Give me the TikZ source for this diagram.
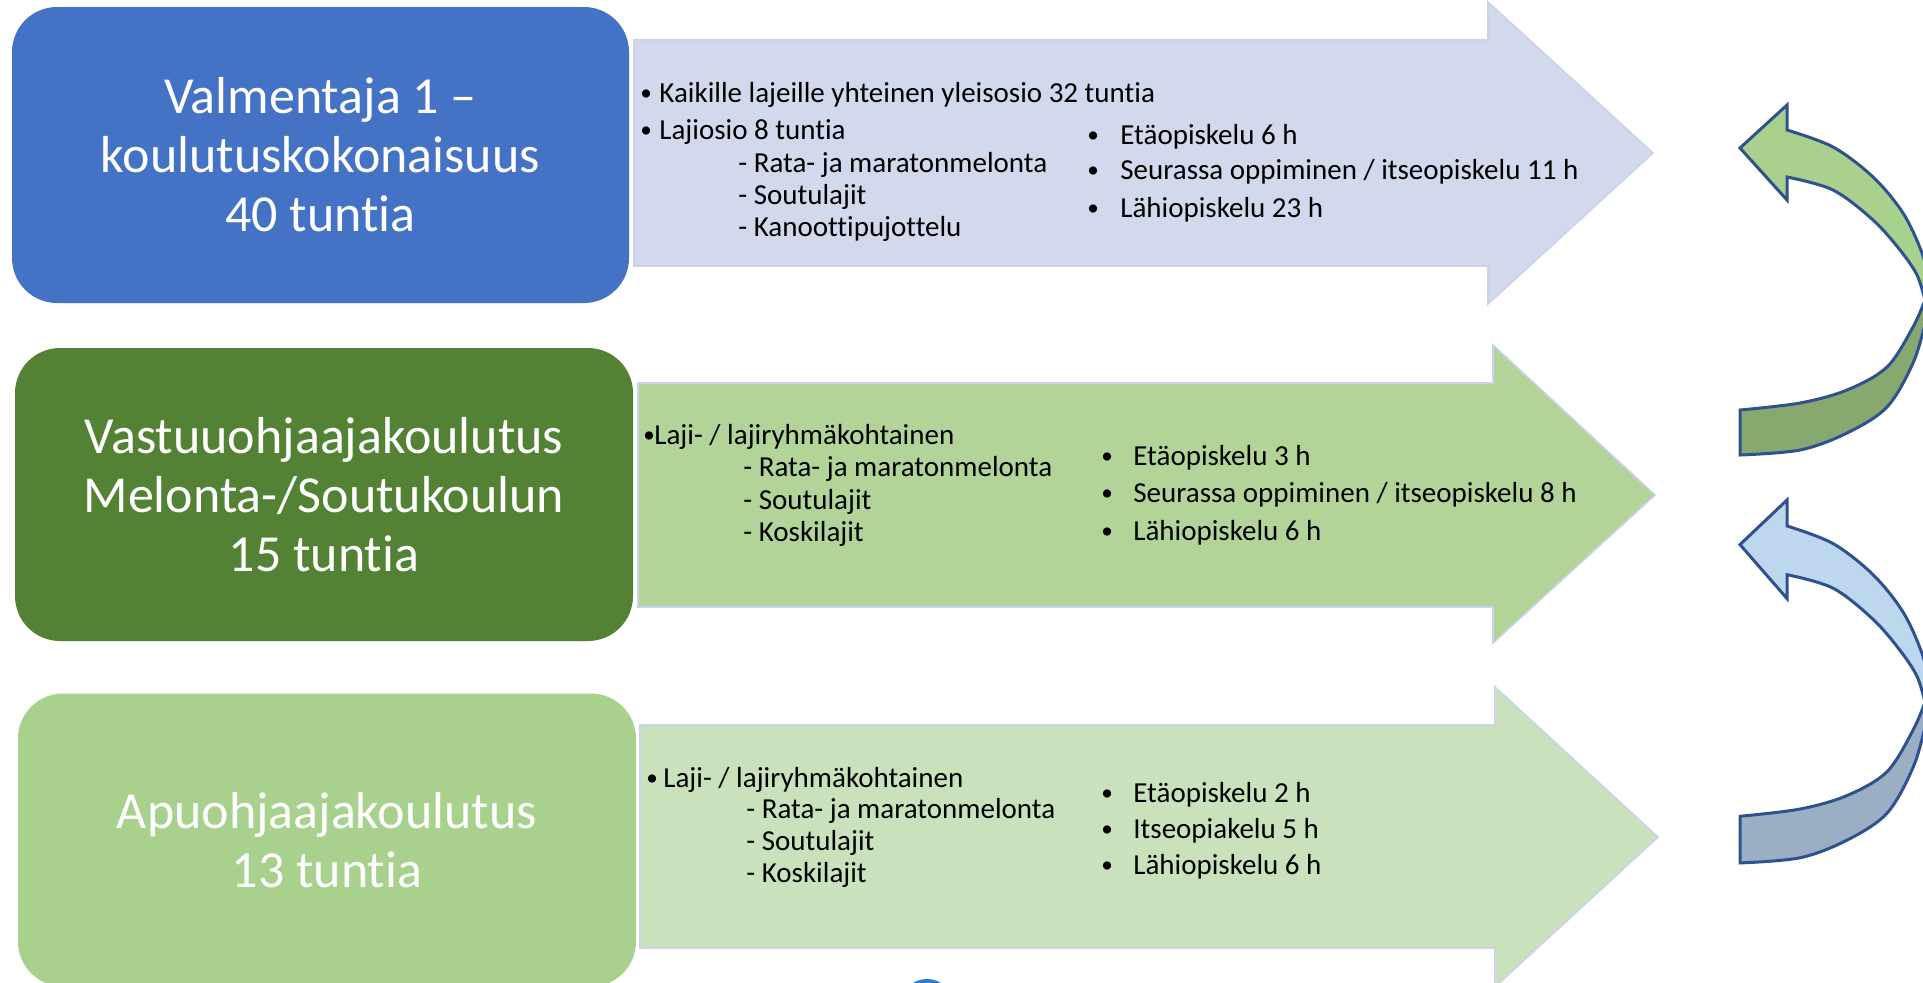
\documentclass[tikz,border=0pt]{standalone}
\usepackage{fontspec}
\setmainfont{Carlito}[RawFeature={-liga;-clig}]
\definecolor{boxA}{HTML}{4472C4}
\definecolor{boxB}{HTML}{548235}
\definecolor{boxC}{HTML}{A9D18E}
\definecolor{arrA}{HTML}{D3D9EC}
\definecolor{arrB}{HTML}{B2D499}
\definecolor{arrC}{HTML}{C9E2BB}
\definecolor{arrline}{HTML}{CBD2EA}
\definecolor{cline}{HTML}{2F528F}
\definecolor{gLight}{HTML}{A9D18E}
\definecolor{gDark}{HTML}{87A96F}
\definecolor{bLight}{HTML}{BDD7EE}
\definecolor{bDark}{HTML}{9AAFC3}
\definecolor{blob}{HTML}{2E7BCF}
\newcommand{\bul}[1]{\makebox[#1][l]{\raisebox{0.12ex}{\scalebox{0.8}{•}}}}
\tikzset{
  bigbox/.style={rounded corners=22.5pt, text=white, align=center, inner sep=0pt,
    font=\fontsize{26}{29.5}\selectfont},
  txt/.style={anchor=base west, inner sep=0pt, text=black, font=\fontsize{14.5}{17}\selectfont},
  flatarrow/.style={draw=arrline, line width=0.8pt, line join=miter},
  curveline/.style={draw=cline, line width=1.5pt, line join=miter},
}
\newcommand{\curvedarrowshape}[2]{%
  \path[curveline, fill=#2] plot[smooth, tension=0.55] coordinates {(1925,300) (1913,327) (1887,367) (1847,390) (1800,403) (1740,410)}
     -- (1740,455)
     -- plot[smooth, tension=0.55] coordinates {(1740,455) (1800,450) (1847,433) (1887,407) (1913,363) (1926,320) (1932,290)}
     -- cycle;
  \path[curveline, fill=#1] (1740,148) -- (1787,105)
     -- plot[smooth, tension=0.55] coordinates {(1787,130) (1833,147) (1873,177) (1903,213) (1922,253) (1932,290)}
     -- plot[smooth, tension=0.55] coordinates {(1925,300) (1917,275) (1900,250) (1873,220) (1833,190) (1787,177)}
     -- (1787,200) -- cycle;
}
\begin{document}
\begin{tikzpicture}[x=0.5pt, y=-0.5pt]
\clip (0,0) rectangle (1923,982);
\fill[white] (0,0) rectangle (1923,982);

% flat arrows
\path[flatarrow, fill=arrA] (634,40) -- (1488,40) -- (1488,2) -- (1653,153) -- (1488,304) -- (1488,266) -- (634,266) -- cycle;
\path[flatarrow, fill=arrB] (638,383) -- (1493,383) -- (1493,345) -- (1655,495) -- (1493,643) -- (1493,607) -- (638,607) -- cycle;
\path[flatarrow, fill=arrC] (640,725) -- (1495,725) -- (1495,687) -- (1658,837) -- (1495,987) -- (1495,948) -- (640,948) -- cycle;

% left boxes
\node[bigbox, fill=boxA, minimum width=308.5pt, minimum height=148pt] (b1) at (320.5,155)
  {Valmentaja 1 –\\koulutuskokonaisuus\\40 tuntia};
\node[bigbox, fill=boxB, minimum width=309pt, minimum height=146.5pt] (b2) at (324,494.5)
  {Vastuuohjaajakoulutus\\Melonta-/Soutukoulun\\15 tuntia};
\node[bigbox, fill=boxC, minimum width=309pt, minimum height=146.5pt] (b3) at (327,840)
  {Apuohjaajakoulutus\\13 tuntia};

% row 1 texts
\node[txt] (r1a) at (640,102) {\bul{9.5pt}Kaikille lajeille yhteinen yleisosio 32 tuntia};
\node[txt] (r1b) at (640,139) {\bul{9.5pt}Lajiosio 8 tuntia};
\node[txt] (r1c) at (738,172) {- Rata- ja maratonmelonta};
\node[txt] (r1d) at (738,204) {- Soutulajit};
\node[txt] (r1e) at (738,236) {- Kanoottipujottelu};
\node[txt] (r1f) at (1087,144) {\bul{16.5pt}Etäopiskelu 6 h};
\node[txt] (r1g) at (1087,179) {\bul{16.5pt}Seurassa oppiminen / itseopiskelu 11 h};
\node[txt] (r1h) at (1087,217) {\bul{16.5pt}Lähiopiskelu 23 h};

% row 2 texts
\node[txt] (r2a) at (643,444) {\bul{5.5pt}Laji- / lajiryhmäkohtainen};
\node[txt] (r2b) at (743,476) {- Rata- ja maratonmelonta};
\node[txt] (r2c) at (743,509) {- Soutulajit};
\node[txt] (r2d) at (743,541) {- Koskilajit};
\node[txt] (r2e) at (1101,465) {\bul{16pt}Etäopiskelu 3 h};
\node[txt] (r2f) at (1101,502) {\bul{16pt}Seurassa oppiminen / itseopiskelu 8 h};
\node[txt] (r2g) at (1101,540) {\bul{16pt}Lähiopiskelu 6 h};

% row 3 texts
\node[txt] (r3a) at (646,787) {\bul{8.5pt}Laji- / lajiryhmäkohtainen};
\node[txt] (r3b) at (746,818) {- Rata- ja maratonmelonta};
\node[txt] (r3c) at (746,850) {- Soutulajit};
\node[txt] (r3d) at (746,882) {- Koskilajit};
\node[txt] (r3e) at (1101,802) {\bul{16pt}Etäopiskelu 2 h};
\node[txt] (r3f) at (1101,838) {\bul{16pt}Itseopiakelu 5 h};
\node[txt] (r3g) at (1101,874) {\bul{16pt}Lähiopiskelu 6 h};

% curved arrows
\curvedarrowshape{gLight}{gDark}
\begin{scope}[shift={(0,500)}, yscale=1.037, shift={(0,-105)}]
  \curvedarrowshape{bLight}{bDark}
\end{scope}

% partial blue shape at the bottom edge
\fill[blob] (927,1000) ellipse [x radius=24, y radius=21];
\end{tikzpicture}
\end{document}
